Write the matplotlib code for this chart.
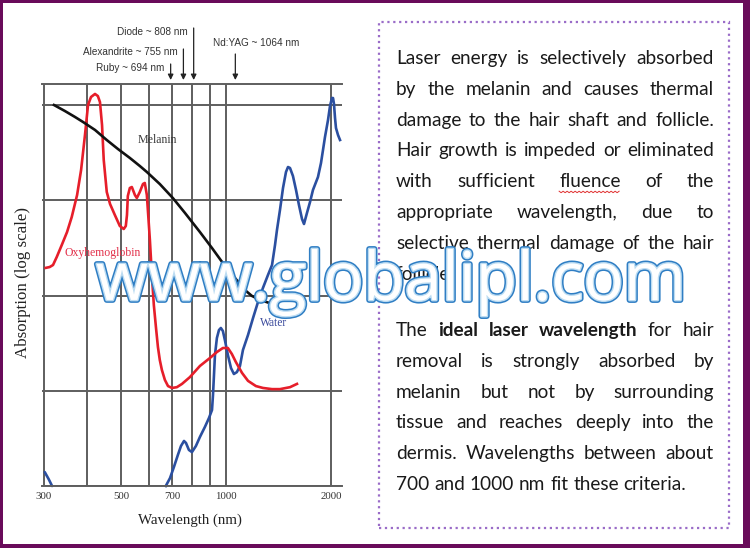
import matplotlib
matplotlib.use('Agg')
import matplotlib.pyplot as plt
from matplotlib.patches import Rectangle
from matplotlib.lines import Line2D
import matplotlib.patheffects as pe
from matplotlib.ticker import NullLocator, NullFormatter

# ---------------- data ----------------
melanin_wl = [321, 345, 369, 389, 421, 455, 490, 530, 566, 593, 646, 704, 763, 842, 912, 980,
              1061, 1134, 1187, 1252, 1338]
melanin_abs = [10000, 8650, 7480, 6630, 5470, 4290, 3450, 2780, 2290, 1980, 1480, 1056, 735, 464,
               315, 219, 153, 114, 99, 90, 83]

oxy_wl = [304, 312, 319, 327, 338, 350, 361, 374, 384, 394, 402, 410, 421, 429, 435, 441, 446, 455,
          465, 480, 496, 509, 516, 520, 523, 530, 537, 548, 555, 566, 578, 585, 593, 597, 605, 613,
          621, 630, 638, 646, 655, 668, 682, 700, 723, 748, 788, 842, 900, 942, 980, 1013, 1040,
          1068, 1112, 1157, 1219, 1277, 1356, 1429, 1527, 1599]
oxy_abs = [195, 199, 209, 254, 339, 464, 667, 1135, 2078, 4842, 10000, 12130, 13060, 12420, 10740,
           6166, 2647, 1221, 913, 700, 537, 499, 537, 700, 1109, 1345, 1377, 1135, 1056, 1221, 1482,
           1518, 1135, 790, 383, 164, 79.5, 45.6, 28.8, 21.0, 16.5, 13.0, 11.2, 10.7, 10.9, 11.8,
           13.9, 18.2, 22.1, 25.5, 28.1, 28.1, 24.3, 20.0, 15.4, 12.7, 11.2, 10.7, 10.4, 10.4, 10.9,
           11.8]

water_uv_wl = [302, 310, 317]
water_uv_abs = [1.40, 1.18, 1.0]
water_wl = [672, 691, 709, 728, 743, 758, 768, 783, 799, 820, 842, 870, 894, 912, 918, 924, 930,
            942, 955, 967, 980, 993, 1013, 1034, 1054, 1075, 1097, 1119, 1157, 1196, 1236, 1277,
            1320, 1356, 1383, 1401, 1429, 1458, 1487, 1507, 1527, 1557, 1589, 1620, 1653, 1675,
            1708, 1743, 1777, 1837, 1874, 1899, 1924, 1963, 1989, 2015, 2029, 2042, 2056, 2069,
            2097, 2125]
water_abs = [1.0, 1.21, 1.58, 2.12, 2.63, 2.97, 2.83, 2.39, 2.27, 2.63, 3.27, 4.16, 5.18, 6.28,
             9.02, 14.6, 23.7, 35.8, 43.4, 45.6, 42.4, 34.1, 23.7, 17.3, 15.0, 15.7, 18.2, 26.8,
             38.5, 58.0, 85.5, 120, 164, 209, 339, 487, 790, 1345, 1980, 2234, 2181, 1797, 1281,
             892, 636, 563, 735, 959, 1281, 1754, 2461, 3371, 4613, 6959, 9761, 11840, 11840,
             10240, 7303, 5735, 4842, 4291]

grid_wl = [300, 400, 500, 600, 700, 800, 900, 1000, 2000]
tick_wl = [300, 500, 700, 1000, 2000]
tick_labels = ['300', '500', '700', '1000', '2000']
grid_abs = [1, 10, 100, 1000, 10000]

laser_names = ['Ruby ~ 694 nm', 'Alexandrite ~ 755 nm', 'Diode ~ 808 nm', 'Nd:YAG ~ 1064 nm']
laser_wl = [694, 755, 808, 1064]

para1 = ["Laser energy is selectively absorbed",
         "by the melanin and causes thermal",
         "damage to the hair shaft and follicle.",
         "Hair growth is impeded or eliminated",
         "with sufficient fluence of the",
         "appropriate wavelength, due to",
         "selective thermal damage of the hair",
         "follicle."]
para2 = ["The **ideal laser wavelength** for hair",
         "removal is strongly absorbed by",
         "melanin but not by surrounding",
         "tissue and reaches deeply into the",
         "dermis. Wavelengths between about",
         "700 and 1000 nm fit these criteria."]
watermark = "www.globalipl.com"

# ---------------- figure ----------------
W, H = 750, 548
fig = plt.figure(figsize=(7.5, 5.48), dpi=100)
fig.patch.set_facecolor('white')

def fx(x):
    return x / W

def fy(y):
    return 1 - y / H

SERIF = ['Liberation Serif', 'DejaVu Serif']
SANS = ['Liberation Sans', 'DejaVu Sans']
GRID_C = '#5e5e5e'

ax = fig.add_axes([fx(42), fy(486), 300 / W, 402 / H])
ax.set_xscale('log')
ax.set_yscale('log')
ax.set_xlim(296.6, 2153)
ax.set_ylim(1, 16615)
ax.set_facecolor('none')
for s in ['left', 'right']:
    ax.spines[s].set_visible(False)
for s in ['top', 'bottom']:
    ax.spines[s].set_color(GRID_C)
    ax.spines[s].set_linewidth(1.4)

ax.set_xticks(tick_wl)
ax.set_xticklabels(tick_labels, family=SERIF, fontsize=7.8, color='#333333')
ax.set_xticks(grid_wl, minor=True)
ax.xaxis.set_minor_formatter(NullFormatter())
ax.set_yticks(grid_abs)
ax.yaxis.set_minor_locator(NullLocator())
ax.set_yticklabels([])
ax.tick_params(axis='both', which='both', length=0, pad=4)
ax.grid(True, which='both', color=GRID_C, linewidth=1.4)
ax.set_axisbelow(True)

ax.plot(water_uv_wl, water_uv_abs, color='#2b4fa0', lw=1.9, solid_capstyle='round', clip_on=False)
ax.plot(water_wl, water_abs, color='#2b4fa0', lw=1.9, solid_joinstyle='round', clip_on=False)
ax.plot(oxy_wl, oxy_abs, color='#e61e2a', lw=1.9, solid_joinstyle='round', clip_on=False)
ax.plot(melanin_wl, melanin_abs, color='#111111', lw=1.9, solid_joinstyle='round', clip_on=False)

ax.text(634, 4290, 'Melanin', family=SERIF, fontsize=8.6, color='#3a3a3a', ha='center', va='center')
ax.text(443, 279, 'Oxyhemoglobin', family=SERIF, fontsize=8.5, color='#e2304a', ha='center', va='center')
ax.text(1373, 51.4, 'Water', family=SERIF, fontsize=8.3, color='#3b4a9c', ha='center', va='center')

# laser arrows
def afrac(ypx):
    return (486 - ypx) / 402.0

arrow_start = [64, 49, 28, 54]
text_y = [68, 52, 32, 43]
for name, wl, ys, ty, i in zip(laser_names, laser_wl, arrow_start, text_y, range(4)):
    ax.annotate('', xy=(wl, afrac(80)), xycoords=('data', 'axes fraction'),
                xytext=(wl, afrac(ys)), textcoords=('data', 'axes fraction'),
                arrowprops=dict(arrowstyle='-|>', color='#222222', lw=0.9, shrinkA=0, shrinkB=0,
                                mutation_scale=8), annotation_clip=False)
    if i < 3:
        ax.annotate(name, xy=(wl, afrac(ty)), xycoords=('data', 'axes fraction'),
                    xytext=(-6, 0), textcoords='offset pixels', ha='right', va='center',
                    family=SANS, fontsize=7.2, color='#333333', annotation_clip=False)
    else:
        ax.annotate(name, xy=(wl, afrac(ty)), xycoords=('data', 'axes fraction'),
                    xytext=(-22, 0), textcoords='offset pixels', ha='left', va='center',
                    family=SANS, fontsize=7.2, color='#333333', annotation_clip=False)

fig.text(fx(23), fy(283), 'Absorption (log scale)', rotation=90, family=SERIF, fontsize=12.2,
         color='#222222', ha='center', va='center')
fig.text(fx(190), fy(520), 'Wavelength (nm)', family=SERIF, fontsize=10.8, color='#222222',
         ha='center', va='center')

# ---------------- text box ----------------
fig.add_artist(Rectangle((fx(379), fy(528)), (729 - 379) / W, (528 - 22) / H,
                         transform=fig.transFigure, fill=False, edgecolor='#9a6cc8',
                         linewidth=1.6, linestyle=':'))

fig.canvas.draw()
renderer = fig.canvas.get_renderer()
BODY = ['Lato', 'DejaVu Sans']

def measure(s, fs, bold):
    t = fig.text(0, 0, s, fontsize=fs, family=BODY, fontweight='bold' if bold else 'normal')
    w = t.get_window_extent(renderer).width
    t.remove()
    return w

def tokens(line):
    out = []
    bold = False
    for tok in line.split(' '):
        b = bold
        if tok.startswith('**'):
            tok = tok[2:]
            b = True
            bold = True
        if tok.endswith('**'):
            tok = tok[:-2]
            bold = False
        out.append((tok, b))
    return out

def natural_width(line, fs):
    toks = tokens(line)
    sp = measure('a a', fs, False) - measure('aa', fs, False)
    return sum(measure(t, fs, b) for t, b in toks) + sp * (len(toks) - 1)

fs_ref = 10
fs = fs_ref * 289.0 / natural_width(para2[-1], fs_ref)
space_w = measure('a a', fs, False) - measure('aa', fs, False)

X0, X1 = 396, 714
LS = 30.8

def draw_line(line, ybase, justify):
    toks = tokens(line)
    widths = [measure(t, fs, b) for t, b in toks]
    if justify and len(toks) > 1:
        gap = (X1 - X0 - sum(widths)) / (len(toks) - 1)
    else:
        gap = space_w
    x = X0
    for (t, b), w in zip(toks, widths):
        fig.text(fx(x), fy(ybase), t, fontsize=fs, family=BODY,
                 fontweight='bold' if b else 'normal', color='#1a1a1a', ha='left', va='baseline')
        if t == 'fluence':
            n = int(w // 2)
            xs = [fx(x + k * 2) for k in range(n + 1)]
            ys = [fy(ybase + 4 + (k % 2) * 1.5) for k in range(n + 1)]
            fig.add_artist(Line2D(xs, ys, transform=fig.transFigure, color='#e03030', lw=0.7))
        x += w + gap

b1 = 64
for i, line in enumerate(para1):
    draw_line(line, b1 + i * LS, i < len(para1) - 1)
b2 = 336
for i, line in enumerate(para2):
    draw_line(line, b2 + i * LS, i < len(para2) - 1)

# ---------------- watermark ----------------
t = fig.text(0, 0, watermark, fontsize=60, family=['Open Sans', 'DejaVu Sans'])
wm_w = t.get_window_extent(renderer).width
t.remove()
wm_fs = 60 * 590.0 / wm_w
fig.text(fx(96), fy(300), watermark, fontsize=wm_fs, family=['Open Sans', 'DejaVu Sans'],
         color='white', ha='left', va='baseline', zorder=100,
         path_effects=[pe.Stroke(linewidth=4.2, foreground='#2f7ec4'),
                       pe.Stroke(linewidth=2.0, foreground='#bcdcf2'),
                       pe.Normal()])

# ---------------- purple frame ----------------
PC = '#690b5a'
for (x0, y0, x1, y1) in [(0, 0, W, 3), (0, 544, W, H), (0, 0, 3, H), (743, 0, W, H)]:
    fig.add_artist(Rectangle((fx(x0), fy(y1)), (x1 - x0) / W, (y1 - y0) / H,
                             transform=fig.transFigure, facecolor=PC, edgecolor='none', zorder=200))

fig.savefig('out.png', dpi=100)
